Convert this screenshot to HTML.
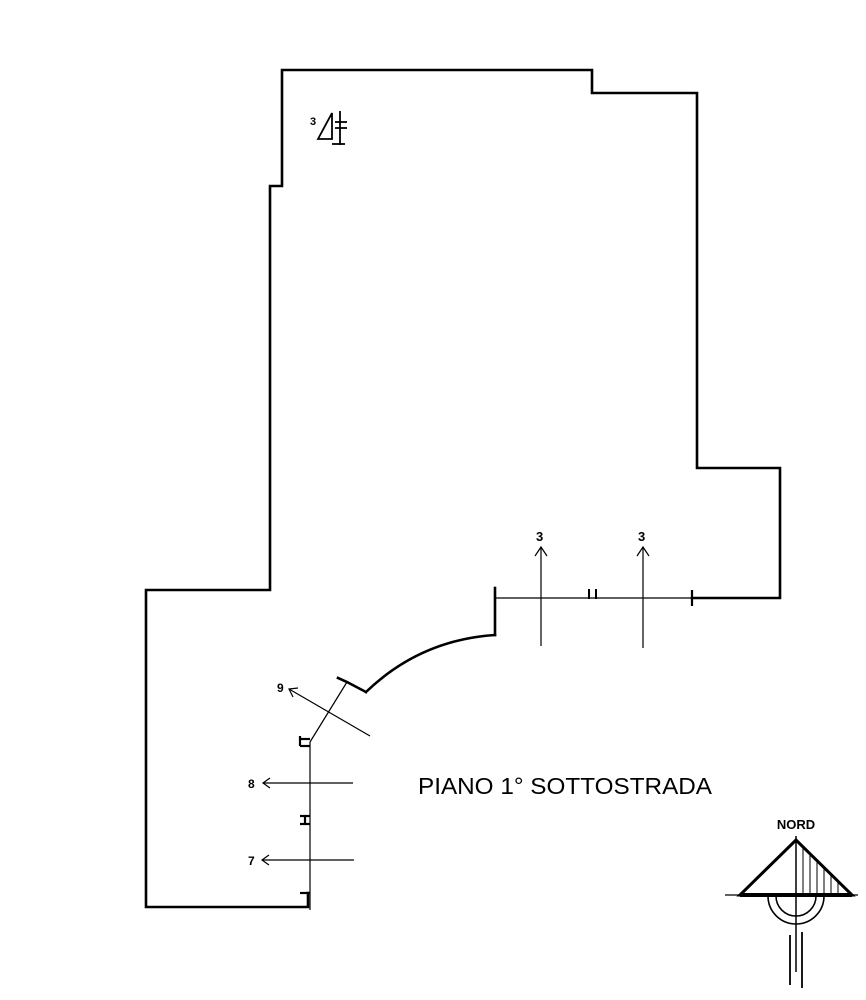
<!DOCTYPE html>
<html><head><meta charset="utf-8"><style>
html,body{margin:0;padding:0;background:#fff;}
svg{display:block;}
text{font-family:"Liberation Sans",sans-serif;fill:#000;}
</style></head><body>
<svg width="866" height="1000" viewBox="0 0 866 1000" xmlns="http://www.w3.org/2000/svg">
<g fill="none" stroke="#000" stroke-width="2.6" stroke-linecap="square">
<polyline points="495,588 495,635"/>
<path d="M366,692 Q420,640 495,635"/>
<polyline points="338,678 347,682 366,692"/>
<polyline points="692,598 780,598 780,468 697,468 697,93 592,93 592,70 282,70 282,186 270,186 270,590 146,590 146,907 308,907 308,893"/>
</g>
<g fill="none" stroke="#000" stroke-width="1.2">
<line x1="495" y1="598" x2="692" y2="598"/>
<line x1="692" y1="590" x2="692" y2="606" stroke-width="2.2"/>
<line x1="589" y1="589" x2="589" y2="599" stroke-width="2"/>
<line x1="596" y1="589" x2="596" y2="599" stroke-width="2"/>
<line x1="541" y1="547" x2="541" y2="646"/>
<line x1="643" y1="547" x2="643" y2="648"/>
<polyline points="535,556 541,547 547,556"/>
<polyline points="637,556 643,547 649,556"/>
<line x1="347" y1="682" x2="310" y2="742"/>
<line x1="289" y1="689" x2="370" y2="736"/>
<polyline points="293,697 289,689 298,688"/>
<line x1="310" y1="742" x2="310" y2="910"/>
<line x1="263" y1="783" x2="353" y2="783"/>
<polyline points="270,778 263,783 270,788"/>
<line x1="262" y1="860" x2="354" y2="860"/>
<polyline points="269,855 262,860 269,865"/>
<g stroke-width="2.2">
<line x1="300" y1="739" x2="310" y2="739"/><line x1="300" y1="746" x2="310" y2="746"/><line x1="300" y1="736" x2="300" y2="746"/>
<line x1="300" y1="816" x2="310" y2="816"/><line x1="300" y1="824" x2="310" y2="824"/><line x1="305" y1="816" x2="305" y2="824"/>
<line x1="300" y1="893" x2="310" y2="893"/>
</g>
</g>
<g fill="none" stroke="#000" stroke-width="1.8">
<path d="M318,139 L332,113 L332,139 Z"/>
<line x1="340" y1="111" x2="340" y2="145"/>
<line x1="335" y1="122" x2="347" y2="122"/>
<line x1="335" y1="128" x2="347" y2="128"/>
<line x1="332" y1="144" x2="345" y2="144"/>
</g>
<text x="310" y="125" font-size="11" font-weight="bold">3</text>
<text x="536" y="541" font-size="13" font-weight="bold">3</text>
<text x="638" y="541" font-size="13" font-weight="bold">3</text>
<text x="277" y="692" font-size="12" font-weight="bold">9</text>
<text x="248" y="788" font-size="12" font-weight="bold">8</text>
<text x="248" y="865" font-size="12" font-weight="bold">7</text>
<text x="418" y="794" font-size="23" textLength="294" lengthAdjust="spacingAndGlyphs">PIANO  1° SOTTOSTRADA</text>
<text x="796" y="829" font-size="13" font-weight="bold" text-anchor="middle">NORD</text>
<g fill="none" stroke="#000">
<line x1="725" y1="895" x2="858" y2="895" stroke-width="1.2"/>
<path d="M740,895 L796,840 L852,895 Z" stroke-width="3"/>
<line x1="740" y1="895" x2="852" y2="895" stroke-width="4"/>
<g stroke-width="1">
<line x1="803" y1="848" x2="803" y2="893"/><line x1="810" y1="854" x2="810" y2="893"/><line x1="817" y1="861" x2="817" y2="893"/><line x1="824" y1="868" x2="824" y2="893"/><line x1="831" y1="875" x2="831" y2="893"/><line x1="838" y1="882" x2="838" y2="893"/>
</g>
<path d="M768,896 A28,28 0 0 0 824,896" stroke-width="1.6"/>
<path d="M776,896 A20,20 0 0 0 816,896" stroke-width="1.6"/>
<line x1="796" y1="836" x2="796" y2="972" stroke-width="1.5"/>
<line x1="790" y1="935" x2="790" y2="985" stroke-width="1.8"/>
<line x1="802" y1="932" x2="802" y2="988" stroke-width="1.8"/>
</g>
</svg>
</body></html>
